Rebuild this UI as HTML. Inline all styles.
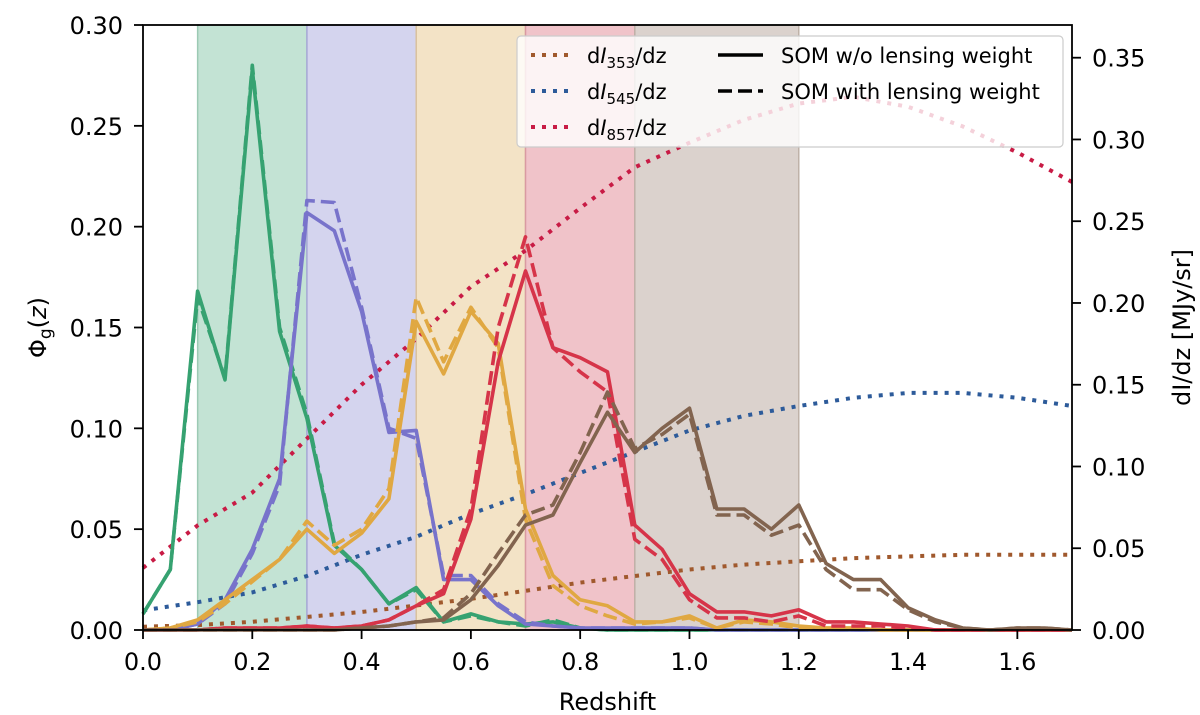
<!DOCTYPE html>
<html><head><meta charset="utf-8"><style>
html,body{margin:0;padding:0;background:#fff;}
svg{display:block;font-family:"DejaVu Sans","Liberation Sans",sans-serif;}
</style></head><body>
<svg id="chart" width="1200" height="715" xmlns="http://www.w3.org/2000/svg"></svg>
<script>
// ---- data ----
const zGrid = [0,0.05,0.1,0.15,0.2,0.25,0.3,0.35,0.4,0.45,0.5,0.55,0.6,0.65,0.7,0.75,0.8,0.85,0.9,0.95,1.0,1.05,1.1,1.15,1.2,1.25,1.3,1.35,1.4,1.45,1.5,1.55,1.6,1.65,1.7];
const greenSolid  = [0.008,0.03,0.168,0.124,0.278,0.148,0.105,0.042,0.03,0.013,0.021,0.004,0.008,0.004,0.003,0.004,0.001,0,0,0,0,0,0,0,0,0,0,0,0,0,0,0,0,0,0];
const greenDashed = [0.008,0.03,0.165,0.125,0.28,0.15,0.107,0.043,0.03,0.013,0.02,0.004,0.007,0.004,0.002,0.005,0.001,0,0,0,0,0,0,0,0,0,0,0,0,0,0,0,0,0,0];
const purpleSolid  = [0,0,0.003,0.015,0.04,0.075,0.207,0.198,0.158,0.098,0.099,0.025,0.025,0.012,0.003,0.002,0.001,0.001,0.001,0.001,0.001,0,0,0,0,0,0,0,0,0,0,0,0,0,0];
const purpleDashed = [0,0,0.003,0.013,0.038,0.072,0.213,0.212,0.16,0.1,0.095,0.027,0.027,0.013,0.004,0.002,0.001,0.001,0.001,0.001,0.001,0,0,0,0,0,0,0,0,0,0,0,0,0,0];
const yellowSolid  = [0,0.001,0.005,0.015,0.025,0.035,0.05,0.038,0.048,0.065,0.153,0.127,0.158,0.142,0.06,0.027,0.015,0.012,0.004,0.004,0.007,0.001,0.005,0.004,0.002,0.001,0.001,0,0,0,0,0,0,0,0];
const yellowDashed = [0,0.001,0.004,0.013,0.024,0.035,0.054,0.042,0.05,0.07,0.165,0.133,0.16,0.14,0.055,0.022,0.012,0.007,0.003,0.004,0.006,0.001,0.004,0.003,0.001,0.001,0.001,0,0,0,0,0,0,0,0];
const redSolid  = [0,0,0,0.001,0.001,0.001,0.002,0.001,0.002,0.005,0.012,0.018,0.055,0.133,0.178,0.14,0.135,0.128,0.052,0.04,0.018,0.009,0.009,0.007,0.01,0.004,0.004,0.003,0.002,0,0,0,0,0,0];
const redDashed = [0,0,0,0.001,0.001,0.001,0.002,0.001,0.002,0.005,0.012,0.02,0.06,0.15,0.195,0.14,0.128,0.118,0.045,0.035,0.015,0.006,0.006,0.004,0.007,0.002,0.002,0.002,0.001,0,0,0,0,0,0];
const brownSolid  = [0,0,0,0,0,0,0,0,0.001,0.002,0.004,0.005,0.015,0.032,0.052,0.057,0.083,0.108,0.088,0.1,0.11,0.06,0.06,0.05,0.062,0.033,0.025,0.025,0.011,0.005,0.001,0,0.001,0.001,0];
const brownDashed = [0,0,0,0,0,0,0,0,0.001,0.002,0.004,0.006,0.018,0.038,0.057,0.062,0.088,0.118,0.09,0.097,0.107,0.057,0.057,0.047,0.052,0.03,0.02,0.02,0.01,0.004,0.001,0,0.001,0.001,0];
const zCib = [0,0.1,0.2,0.3,0.4,0.5,0.6,0.7,0.8,0.9,1.0,1.1,1.2,1.3,1.4,1.5,1.6,1.7];
const dI353 = [0.002,0.003,0.005,0.008,0.011,0.015,0.019,0.024,0.029,0.033,0.037,0.04,0.042,0.044,0.045,0.046,0.046,0.046];
const dI545 = [0.012,0.017,0.023,0.033,0.046,0.057,0.071,0.083,0.096,0.109,0.122,0.131,0.137,0.142,0.145,0.145,0.142,0.137];
const dI857 = [0.038,0.064,0.084,0.117,0.15,0.178,0.21,0.232,0.258,0.283,0.298,0.312,0.322,0.326,0.32,0.308,0.292,0.274];
const bandEdges = [0.1,0.3,0.5,0.7,0.9,1.2];
const xTicks = [0,0.2,0.4,0.6,0.8,1.0,1.2,1.4,1.6];
const xTickLabels = ["0.0","0.2","0.4","0.6","0.8","1.0","1.2","1.4","1.6"];
const yTicks = [0,0.05,0.1,0.15,0.2,0.25,0.3];
const yTickLabels = ["0.00","0.05","0.10","0.15","0.20","0.25","0.30"];
const y2Ticks = [0,0.05,0.1,0.15,0.2,0.25,0.3,0.35];
const y2TickLabels = ["0.00","0.05","0.10","0.15","0.20","0.25","0.30","0.35"];

// ---- layout ----
const L=143,R=1072,T=25,B=630;
const X = z => L + (z/1.7)*(R-L);
const Y = v => B - (v/0.30)*(B-T);
const Y2 = v => B - (v/0.37)*(B-T);
const NS="http://www.w3.org/2000/svg";
const svg=document.getElementById('chart');
function mk(tag,attrs,parent){const e=document.createElementNS(NS,tag);for(const k in attrs)e.setAttribute(k,attrs[k]);(parent||svg).appendChild(e);return e;}

const bandFill=["#c3e3d4","#d4d4ee","#f3e3c6","#f0c3c9","#dbd2cd"];
const bandEdge=["#9ccab4","#a9a9d8","#d9c29d","#d99aa2","#bfb1a8"];
const bandNames=["band-green","band-purple","band-orange","band-red","band-brown"];
for(let i=0;i<5;i++){
  const r=mk('rect',{x:X(bandEdges[i]),y:T,width:X(bandEdges[i+1])-X(bandEdges[i]),height:B-T,fill:bandFill[i],stroke:bandEdge[i],'stroke-width':1.5});
  
  
}

function line(zs,vs,yf,color,dash,w,name){
  const pts=zs.map((z,i)=>X(z).toFixed(1)+','+yf(vs[i]).toFixed(1)).join(' ');
  const p=mk('polyline',{points:pts,fill:'none',stroke:color,'stroke-width':w,'stroke-dasharray':dash,'stroke-linejoin':'round'});
  
  
}
line(zCib,dI353,Y2,'#a0592d','4 7',4,'di353-curve');
line(zCib,dI545,Y2,'#2d5b9a','4 7',4,'di545-curve');
line(zCib,dI857,Y2,'#c81b45','4 7',4,'di857-curve');
const series=[
 ['green','#36a271',greenSolid,greenDashed],
 ['purple','#7873cb',purpleSolid,purpleDashed],
 ['yellow','#e0a842',yellowSolid,yellowDashed],
 ['red','#d63449',redSolid,redDashed],
 ['brown','#82644f',brownSolid,brownDashed]];
for(const s of series){
  line(zGrid,s[3],Y,s[1],'14 6',3.6,'nz-'+s[0]+'-dashed');
  line(zGrid,s[2],Y,s[1],'none',3.6,'nz-'+s[0]+'-solid');
}

const fr=mk('rect',{x:L,y:T,width:R-L,height:B-T,fill:'none',stroke:'#000','stroke-width':1.8});


function txt(x,y,s,anchor,size,name){const t=mk('text',{x:x,y:y,'text-anchor':anchor,'font-size':size,fill:'#000'});t.textContent=s;return t;}
xTicks.forEach((z,i)=>{
  mk('line',{x1:X(z),x2:X(z),y1:B,y2:B+9,stroke:'#000','stroke-width':1.8});
  txt(X(z),B+40,xTickLabels[i],'middle',24,'x-tick-label');
});
yTicks.forEach((v,i)=>{
  mk('line',{x1:L-9,x2:L,y1:Y(v),y2:Y(v),stroke:'#000','stroke-width':1.8});
  txt(L-20,Y(v)+9,yTickLabels[i],'end',24,'y-tick-label');
});
y2Ticks.forEach((v,i)=>{
  mk('line',{x1:R,x2:R+9,y1:Y2(v),y2:Y2(v),stroke:'#000','stroke-width':1.8});
  txt(R+20,Y2(v)+9,y2TickLabels[i],'start',24,'y2-tick-label');
});
txt((L+R)/2,B+80,'Redshift','middle',24,'x-axis-title');
const yl=mk('text',{x:0,y:0,'text-anchor':'middle','font-size':24,transform:`translate(46,${(T+B)/2}) rotate(-90)`});
yl.innerHTML='Φ<tspan font-size="17" dy="5">g</tspan><tspan dy="-5">(</tspan><tspan font-style="italic">z</tspan>)';

const y2l=mk('text',{x:0,y:0,'text-anchor':'middle','font-size':24,transform:`translate(1190,${(T+B)/2}) rotate(-90)`});
y2l.textContent='dI/dz [MJy/sr]';


const lg=mk('g',{});

mk('rect',{x:517,y:36,width:546,height:111,rx:4,fill:'rgba(255,255,255,0.8)',stroke:'#ccc','stroke-width':1.2},lg);
const legC=[['#a0592d','353'],['#2d5b9a','545'],['#c81b45','857']];
legC.forEach((c,i)=>{
  const yy=55+i*36;
  mk('line',{x1:531,x2:571,y1:yy,y2:yy,stroke:c[0],'stroke-width':4,'stroke-dasharray':'4 7'},lg);
  const t=mk('text',{x:587,y:yy+8,'font-size':21},lg);
  t.innerHTML='d<tspan font-style="italic">I</tspan><tspan font-size="15" dy="5">'+c[1]+'</tspan><tspan dy="-5">/dz</tspan>';
  
});
mk('line',{x1:718,x2:763,y1:55,y2:55,stroke:'#000','stroke-width':3.6},lg);
mk('line',{x1:718,x2:763,y1:91,y2:91,stroke:'#000','stroke-width':3.6,'stroke-dasharray':'14 6'},lg);
const l1=txt(781,63,'SOM w/o lensing weight','start',21,'legend-entry-solid');lg.appendChild(l1);
const l2=txt(781,99,'SOM with lensing weight','start',21,'legend-entry-dashed');lg.appendChild(l2);
</script>
</body></html>
